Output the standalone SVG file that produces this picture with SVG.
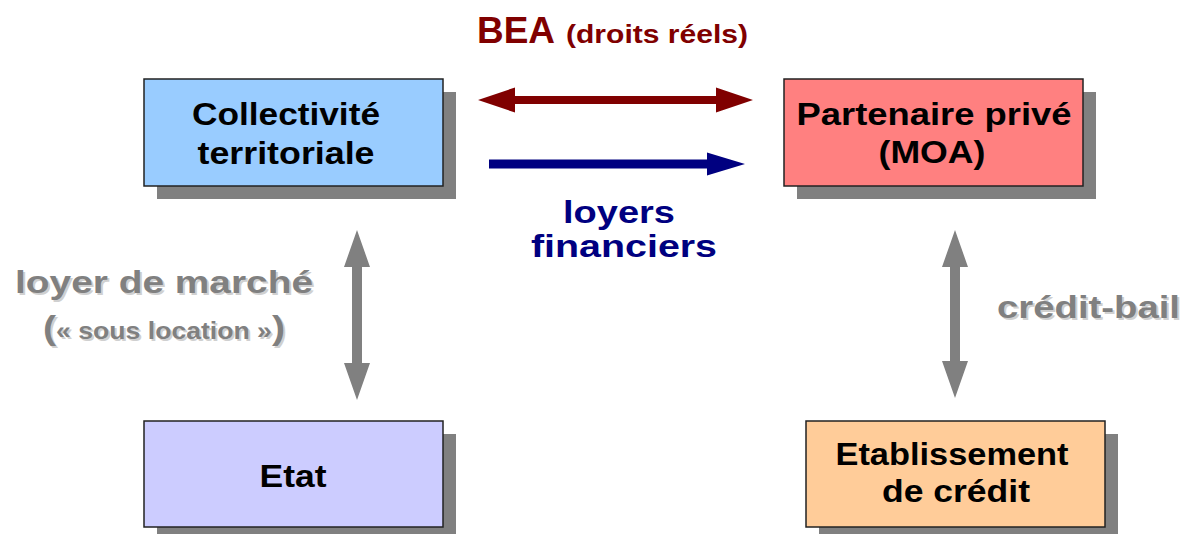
<svg xmlns="http://www.w3.org/2000/svg" width="1184" height="534" viewBox="0 0 1184 534">
<style>
text{font-family:"Liberation Sans",Arial,sans-serif;font-weight:bold;}
.box{stroke:#222;stroke-width:1.5;}
.shadow{fill:#808080;}
.nt{font-size:31px;fill:#000;text-anchor:middle;}
.gt{fill:#808080;}
.gs{fill:#d0d0d0;}
.red{fill:#800000;}
.blue{fill:#000080;}
.grey{fill:#808080;}
</style>
<rect width="1184" height="534" fill="#fff"/>
<g id="connectors">
<polygon class="red" points="478,100 515,87.5 515,96 716,96 716,87.5 753,100 716,112.5 716,104 515,104 515,112.5"/>
<polygon class="blue" points="489,159.5 707,159.5 707,152.5 745,164 707,175.5 707,168.5 489,168.5"/>
<polygon class="grey" points="357,230 370,267 362,267 362,363 370,363 357,400 344,363 352,363 352,267 344,267"/>
<polygon class="grey" points="955,230 968,267 960,267 960,361 968,361 955,398 942,361 950,361 950,267 942,267"/>
<text x="477" y="43" class="red" font-size="36" textLength="78" lengthAdjust="spacingAndGlyphs">BEA</text>
<text x="566" y="43" class="red" font-size="26" textLength="182" lengthAdjust="spacingAndGlyphs">(droits réels)</text>
<text x="563" y="223" class="blue" font-size="32" textLength="112" lengthAdjust="spacingAndGlyphs">loyers</text>
<text x="531" y="257" class="blue" font-size="32" textLength="186" lengthAdjust="spacingAndGlyphs">financiers</text>
<text x="17" y="295" class="gs" font-size="32" textLength="298" lengthAdjust="spacingAndGlyphs">loyer de marché</text>
<text x="15" y="293" class="gt" font-size="32" textLength="298" lengthAdjust="spacingAndGlyphs">loyer de marché</text>
<text x="45" y="341" class="gs" font-size="23" textLength="242" lengthAdjust="spacingAndGlyphs"><tspan font-size="34">(</tspan>« sous location »<tspan font-size="34">)</tspan></text>
<text x="43" y="339" class="gt" font-size="23" textLength="242" lengthAdjust="spacingAndGlyphs"><tspan font-size="34">(</tspan>« sous location »<tspan font-size="34">)</tspan></text>
<text x="999" y="320" class="gs" font-size="32" textLength="183" lengthAdjust="spacingAndGlyphs">crédit-bail</text>
<text x="997" y="318" class="gt" font-size="32" textLength="183" lengthAdjust="spacingAndGlyphs">crédit-bail</text>
</g>
<g id="collectivite">
<rect class="shadow" x="157" y="92" width="299" height="107"/>
<rect class="box" x="144" y="79" width="299" height="107" fill="#99ccff"/>
<text class="nt" x="286" y="125" textLength="188" lengthAdjust="spacingAndGlyphs">Collectivité</text>
<text class="nt" x="286" y="164" textLength="177" lengthAdjust="spacingAndGlyphs">territoriale</text>
</g>
<g id="partenaire">
<rect class="shadow" x="797" y="92" width="299" height="107"/>
<rect class="box" x="784" y="79" width="299" height="107" fill="#ff8080"/>
<text class="nt" x="934" y="125" textLength="275" lengthAdjust="spacingAndGlyphs">Partenaire privé</text>
<text class="nt" x="932" y="163" textLength="107" lengthAdjust="spacingAndGlyphs">(MOA)</text>
</g>
<g id="etat">
<rect class="shadow" x="157" y="434" width="299" height="107"/>
<rect class="box" x="144" y="421" width="299" height="106" fill="#ccccff"/>
<text class="nt" x="293" y="487" textLength="67" lengthAdjust="spacingAndGlyphs">Etat</text>
</g>
<g id="etablissement">
<rect class="shadow" x="819" y="434" width="299" height="107"/>
<rect class="box" x="806" y="421" width="299" height="106" fill="#ffcc99"/>
<text class="nt" x="952" y="465" textLength="233" lengthAdjust="spacingAndGlyphs">Etablissement</text>
<text class="nt" x="956" y="502" textLength="148" lengthAdjust="spacingAndGlyphs">de crédit</text>
</g>
</svg>
